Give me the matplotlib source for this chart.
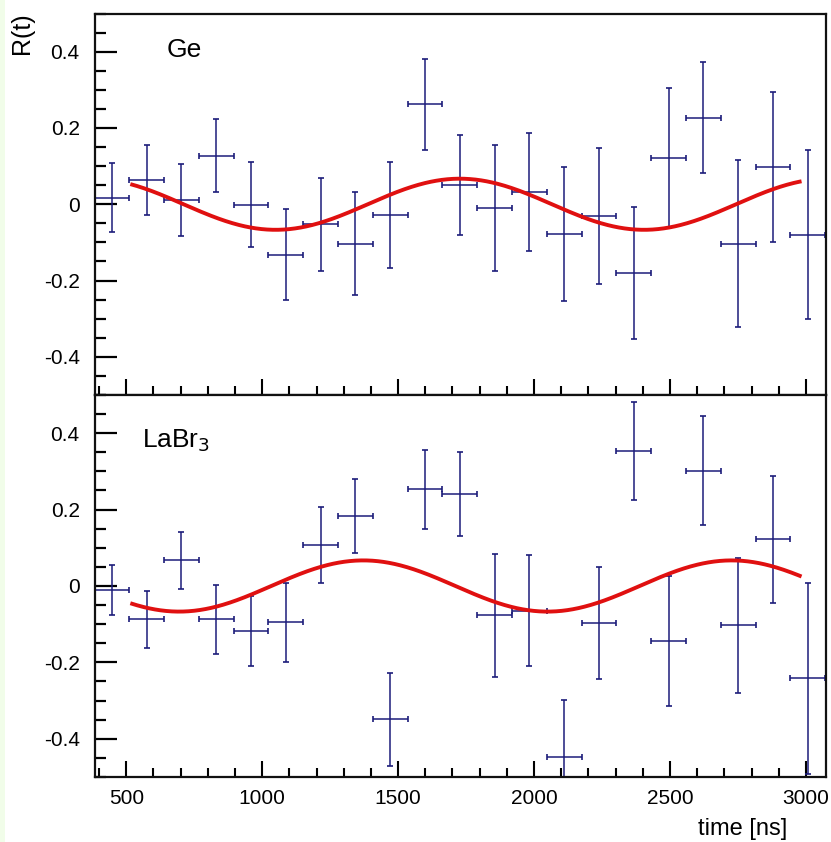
import numpy as np
import matplotlib
matplotlib.use("Agg")
import matplotlib.pyplot as plt
from matplotlib.patches import Rectangle
from matplotlib.ticker import MultipleLocator, FixedLocator

plt.rcParams['font.family'] = ['Liberation Sans', 'DejaVu Sans']

# ---- data ----
time_ns = [447, 575, 703, 831, 959, 1087, 1215, 1343, 1471, 1599, 1727,
           1855, 1983, 2111, 2239, 2367, 2495, 2623, 2751, 2879, 3007]
bin_halfwidth = 64

ge_R = [0.017, 0.064, 0.011, 0.127, -0.001, -0.132, -0.053, -0.103, -0.028, 0.262, 0.050,
        -0.010, 0.033, -0.078, -0.031, -0.180, 0.122, 0.227, -0.103, 0.098, -0.080]
ge_err = [0.090, 0.091, 0.095, 0.096, 0.111, 0.120, 0.122, 0.135, 0.139, 0.120, 0.131,
          0.165, 0.155, 0.176, 0.179, 0.174, 0.184, 0.146, 0.218, 0.196, 0.221]

labr_R = [-0.010, -0.087, 0.067, -0.087, -0.118, -0.095, 0.108, 0.183, -0.349, 0.253, 0.240,
          -0.077, -0.065, -0.448, -0.096, 0.353, -0.144, 0.302, -0.103, 0.122, -0.242]
labr_err = [0.065, 0.074, 0.075, 0.090, 0.092, 0.103, 0.100, 0.096, 0.122, 0.103, 0.110,
            0.160, 0.145, 0.150, 0.147, 0.128, 0.170, 0.142, 0.177, 0.166, 0.250]

# fit parameters (A cos(2*pi*(t - t_max)/period))
fit_amp = 0.067
fit_period = 1355.0
ge_tmax = 1727.0
labr_tmax = 1372.0
fit_range = (515, 2984)

xticks = [500, 1000, 1500, 2000, 2500, 3000]
yticks = [-0.4, -0.2, 0.0, 0.2, 0.4]
ytick_labels = ['-0.4', '-0.2', '0', '0.2', '0.4']

W, H = 831, 842
fig = plt.figure(figsize=(W / 100, H / 100), dpi=100)
fig.patches.append(Rectangle((0, 0), 5 / W, 1, transform=fig.transFigure,
                             facecolor='#f1fde9', edgecolor='none', zorder=-1))

left = 95 / W
width = 731 / W
ax1 = fig.add_axes([left, 1 - 395 / H, width, 381.5 / H])
ax2 = fig.add_axes([left, 1 - 777 / H, width, 382 / H])

navy = '#1c1c7a'
red = '#e01010'

t_fit = np.linspace(fit_range[0], fit_range[1], 600)

for ax, R, err, tmax in [(ax1, ge_R, ge_err, ge_tmax), (ax2, labr_R, labr_err, labr_tmax)]:
    ax.errorbar(time_ns, R, xerr=bin_halfwidth, yerr=err, fmt='none', ecolor=navy,
                elinewidth=1.1, capsize=2.0, capthick=1.2, zorder=2, clip_on=True)
    ax.plot(t_fit, fit_amp * np.cos(2 * np.pi * (t_fit - tmax) / fit_period),
            color=red, lw=2.8, zorder=3, solid_capstyle='butt')
    ax.set_xlim(385, 3074)
    ax.set_ylim(-0.5, 0.5)
    ax.xaxis.set_major_locator(FixedLocator(xticks))
    ax.xaxis.set_minor_locator(MultipleLocator(100))
    ax.yaxis.set_major_locator(FixedLocator(yticks))
    ax.set_yticklabels(ytick_labels)
    ax.yaxis.set_minor_locator(MultipleLocator(0.05))
    ax.tick_params(axis='y', which='major', direction='in', length=15.5, width=1.6,
                   labelsize=15, pad=11, right=False)
    ax.tick_params(axis='y', which='minor', direction='in', length=8, width=1.6, right=False)
    ax.tick_params(axis='x', which='major', direction='in', length=11.3, width=1.5,
                   labelsize=15, pad=9, top=False)
    ax.tick_params(axis='x', which='minor', direction='in', length=6.2, width=1.5, top=False)
    for s in ax.spines.values():
        s.set_linewidth(1.6)
        s.set_color('#111111')

ax1.tick_params(axis='x', labelbottom=False)
ax2.set_xticklabels([str(v) for v in xticks])

ax1.text(0.098, 0.905, 'Ge', transform=ax1.transAxes, fontsize=19, ha='left', va='center')
ax2.text(0.064, 0.88, r'LaBr$_3$', transform=ax2.transAxes, fontsize=19, ha='left',
         va='center')

fig.text(22 / W, 1 - 12 / H, 'R(t)', rotation=90, ha='center', va='top', fontsize=18)
fig.text(787 / W, 1 - 829 / H, 'time [ns]', ha='right', va='center', fontsize=17)

fig.savefig('out.png', dpi=100, facecolor='white')
